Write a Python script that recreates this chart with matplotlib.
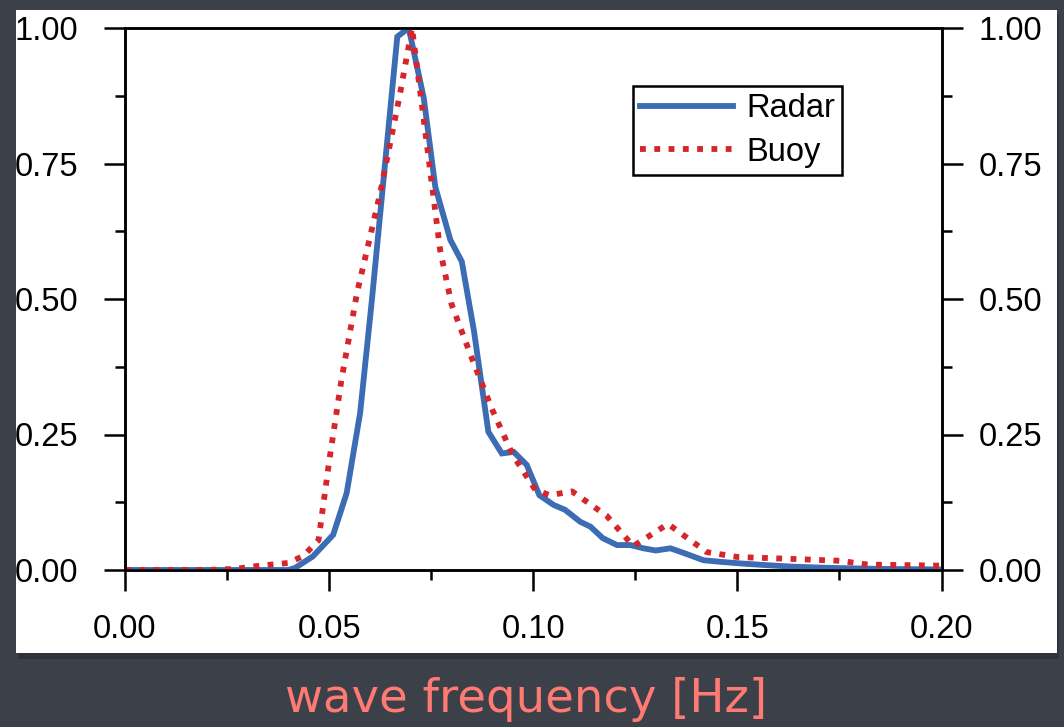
import matplotlib
matplotlib.use("Agg")
import matplotlib.pyplot as plt
from matplotlib.patches import Rectangle
from matplotlib.ticker import MultipleLocator, FormatStrFormatter

# ---- data ----
radar_freq = [0.0, 0.040, 0.0417, 0.046, 0.051, 0.0543, 0.0576, 0.0605, 0.0637,
              0.0667, 0.0695, 0.0732, 0.076, 0.0797, 0.0825, 0.0855, 0.089,
              0.0923, 0.0952, 0.0984, 0.1015, 0.105, 0.1078, 0.1115, 0.114,
              0.117, 0.1205, 0.1238, 0.127, 0.130, 0.1336, 0.137, 0.1417,
              0.146, 0.151, 0.157, 0.164, 0.172, 0.185, 0.200]
radar_vals = [0.0, 0.0, 0.004, 0.025, 0.065, 0.142, 0.29, 0.50, 0.75,
              0.984, 1.0, 0.87, 0.707, 0.609, 0.569, 0.44, 0.255,
              0.215, 0.218, 0.194, 0.138, 0.12, 0.111, 0.089, 0.08,
              0.059, 0.046, 0.046, 0.04, 0.036, 0.04, 0.031, 0.018,
              0.015, 0.012, 0.009, 0.006, 0.004, 0.002, 0.001]

buoy_freq = [0.0, 0.020, 0.027, 0.033, 0.040, 0.0437, 0.0474, 0.050, 0.053,
             0.0568, 0.0625, 0.0674, 0.0703, 0.0731, 0.0772, 0.080, 0.085,
             0.090, 0.095, 0.1005, 0.104, 0.1095, 0.118, 0.1245, 0.133,
             0.1425, 0.150, 0.165, 0.175, 0.182, 0.200]
buoy_vals = [0.0, 0.0, 0.002, 0.008, 0.013, 0.026, 0.055, 0.20, 0.35,
             0.51, 0.695, 0.88, 1.0, 0.836, 0.59, 0.49, 0.39,
             0.295, 0.212, 0.148, 0.138, 0.145, 0.10, 0.044, 0.085,
             0.033, 0.024, 0.02, 0.017, 0.01, 0.008]

series_labels = ["Radar", "Buoy"]
x_ticks = [0.0, 0.05, 0.10, 0.15, 0.20]
y_ticks = [0.0, 0.25, 0.50, 0.75, 1.00]
x_label = "wave frequency [Hz]"

# ---- styling ----
W, H = 1064, 727
fig = plt.figure(figsize=(W / 100, H / 100), dpi=100)
fig.patch.set_facecolor("#3c4049")

# white panel with a soft shadow
fig.patches.append(Rectangle((18 / W, 1 - 659 / H), (1059 - 18) / W, (659 - 14) / H,
                             transform=fig.transFigure, facecolor="#30333a",
                             edgecolor="none", zorder=-2))
fig.patches.append(Rectangle((16 / W, 1 - 653 / H), (1057 - 16) / W, (653 - 10) / H,
                             transform=fig.transFigure, facecolor="white",
                             edgecolor="none", zorder=-1))

font = "Liberation Sans"
fs = 23.5

ax = fig.add_axes([125 / W, 1 - 570 / H, (941.5 - 125) / W, (570 - 28) / H])
ax.set_facecolor("white")

ax.plot(radar_freq, radar_vals, color="#3b6cb4", lw=4.2, label=series_labels[0],
        solid_joinstyle="miter", zorder=3)
ax.plot(buoy_freq, buoy_vals, color="#d6262c", lw=4.2, ls=(0, (1, 1.45)),
        label=series_labels[1], zorder=4)

ax.set_xlim(0, 0.2)
ax.set_ylim(0, 1)
ax.set_xticks(x_ticks)
ax.set_yticks(y_ticks)
ax.xaxis.set_minor_locator(MultipleLocator(0.025))
ax.yaxis.set_minor_locator(MultipleLocator(0.125))
ax.xaxis.set_major_formatter(FormatStrFormatter("%.2f"))
ax.yaxis.set_major_formatter(FormatStrFormatter("%.2f"))

for s in ax.spines.values():
    s.set_linewidth(1.8)
    s.set_color("black")

ax.tick_params(axis="both", which="major", direction="out", length=15, width=1.8,
               labelsize=fs, colors="black")
ax.tick_params(axis="both", which="minor", direction="out", length=7.5, width=1.8)
ax.tick_params(axis="x", which="both", top=False)
ax.tick_params(axis="x", which="major", pad=17)
ax.tick_params(axis="y", which="major", pad=18.5)
for lab in ax.get_xticklabels() + ax.get_yticklabels():
    lab.set_fontfamily(font)

ax2 = ax.twinx()
ax2.set_ylim(0, 1)
ax2.set_yticks(y_ticks)
ax2.yaxis.set_minor_locator(MultipleLocator(0.125))
ax2.yaxis.set_major_formatter(FormatStrFormatter("%.2f"))
ax2.tick_params(axis="y", which="major", direction="out", length=15, width=1.8,
                labelsize=fs, pad=11.5)
ax2.tick_params(axis="y", which="minor", direction="out", length=7.5, width=1.8)
for s in ax2.spines.values():
    s.set_linewidth(1.8)
for lab in ax2.get_yticklabels():
    lab.set_fontfamily(font)

leg = ax.legend(loc="upper left", bbox_to_anchor=(0.622, 0.893), borderaxespad=0,
                prop={"family": font, "size": fs}, frameon=True, fancybox=False,
                framealpha=1, edgecolor="black", handlelength=2.85,
                handletextpad=0.4, borderpad=0.22, labelspacing=0.38)
leg.get_frame().set_linewidth(1.8)
leg.set_zorder(10)

fig.text(526 / W, 1 - 700 / H, x_label, color="#ff7a72", fontsize=33.5,
         family="DejaVu Sans", ha="center", va="center")

fig.savefig("out.png", dpi=100, facecolor=fig.get_facecolor())
